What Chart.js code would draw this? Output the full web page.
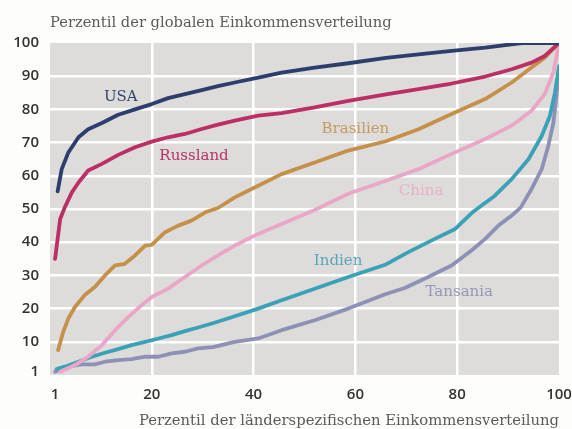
<!DOCTYPE html>
<html>
<head>
<meta charset="utf-8">
<script src="https://cdn.jsdelivr.net/npm/chart.js@4.4.1/dist/chart.umd.min.js"></script>
<style>
  html, body { margin: 0; padding: 0; background: #fdfdfc; }
  #wrap { width: 572px; height: 429px; }
</style>
</head>
<body>
<div id="wrap"><canvas id="chart" width="572" height="429"></canvas></div>
<script>
// x = Perzentil im Land, y = Perzentil global
const usaX = [1.5, 2.3, 3.6, 5.6, 7.5, 10.2, 13.4, 16.7, 20, 23.2, 26.5, 29.8, 33, 36.3, 40.9, 45.5, 52, 58.6, 66, 72.4, 78.9, 85.5, 92.7, 100];
const usaY = [55.3, 62, 67, 71.6, 74, 75.9, 78.4, 80, 81.6, 83.4, 84.6, 85.8, 87, 88.1, 89.6, 91.1, 92.6, 93.9, 95.5, 96.6, 97.6, 98.6, 100, 100];

const rusX = [1, 2, 2.9, 4.3, 5.6, 7.5, 10.2, 13.4, 16.7, 20, 23.2, 26.5, 29.8, 33, 36.3, 40.9, 45.5, 52, 58.6, 66, 72.4, 78.9, 85.5, 90.7, 94.6, 97.2, 100];
const rusY = [35, 47, 50.5, 55, 58, 61.6, 63.6, 66.3, 68.6, 70.3, 71.6, 72.6, 74.1, 75.4, 76.6, 78.1, 78.9, 80.6, 82.6, 84.5, 86.1, 87.8, 89.9, 92.1, 94.1, 96.1, 100];

const braX = [1.6, 2.6, 3.6, 4.9, 6.9, 8.8, 10.8, 12.8, 14.7, 16.7, 18.7, 20, 22.6, 25.2, 27.8, 30.5, 33, 36.3, 40.9, 45.5, 52, 58.6, 66, 72.4, 78.9, 85.5, 90.7, 94.6, 97.2, 100];
const braY = [7.5, 13, 17, 20.5, 24.2, 26.5, 30, 33, 33.5, 36, 39, 39.2, 43, 45, 46.5, 49, 50.3, 53.5, 57, 60.5, 64, 67.6, 70.4, 74, 78.6, 83.1, 88.1, 92.6, 95.6, 100];

const chnX = [2, 4.9, 7.5, 10.2, 12.8, 15.4, 18, 20, 23.2, 26.5, 29.8, 33, 36.3, 40.9, 45.5, 52, 58.6, 66, 72.4, 78.9, 85.5, 90.7, 94.6, 97.2, 98.9, 100];
const chnY = [1, 3, 5.5, 9, 13.5, 17.5, 21, 23.5, 26, 29.5, 33, 36, 39, 42.5, 45.5, 49.7, 54.6, 58.5, 62, 66.6, 71.1, 75.1, 79.6, 84.6, 91.1, 100];

const indX = [1.3, 2.9, 5.6, 8.2, 10.8, 13.4, 16, 18.7, 21.3, 23.9, 26.5, 29.1, 32, 36.3, 40.9, 45.5, 52, 58.6, 66, 70.4, 75.6, 79.6, 83, 87.4, 90.7, 94, 96.6, 98.2, 99.2, 100];
const indY = [1.8, 2.5, 4, 5.5, 6.7, 7.8, 9, 10, 11, 12, 13.2, 14.3, 15.6, 17.7, 20, 22.5, 26, 29.5, 33.3, 37, 41, 44, 49, 54, 59, 65, 72, 78, 85, 93];

const tzaX = [1, 3.6, 6.2, 8.8, 10.8, 13.4, 16, 18.7, 21.3, 23.9, 26.5, 29.1, 32, 36.3, 40.9, 45.5, 52, 58.6, 66, 69.7, 74.3, 78.9, 82.8, 85.5, 88.1, 90.7, 92.5, 94.6, 96.6, 97.9, 98.9, 99.5, 100];
const tzaY = [1, 2.5, 3.2, 3.2, 4, 4.5, 4.8, 5.5, 5.5, 6.5, 7, 8, 8.4, 10, 11, 13.5, 16.5, 20, 24.4, 26.2, 29.5, 33, 37.5, 41, 45, 48, 50.5, 56, 62, 69, 76, 84, 92];

const countries = ['USA', 'Russland', 'Brasilien', 'China', 'Indien', 'Tansania'];
const xTicks = [1, 20, 40, 60, 80, 100];
const yTicks = [1, 10, 20, 30, 40, 50, 60, 70, 80, 90, 100];

const lineColors  = ['#2d3e6d', '#bd2d66', '#c4904a', '#eaa6c6', '#3aa2b7', '#8e91b6'];
const labelColors = ['#33446f', '#b7326a', '#c59a62', '#ebb0cb', '#58a6b9', '#9497b6'];
// where each country name sits, in data units
const labelPos = [[13.9, 83.8], [28.3, 66], [60, 74.2], [72.9, 55.3], [56.6, 34.4], [80.4, 24.9]];

const xs = [usaX, rusX, braX, chnX, indX, tzaX];
const ys = [usaY, rusY, braY, chnY, indY, tzaY];

const serif = "'DejaVu Serif', serif";

const datasets = countries.map((name, i) => ({
  label: name,
  data: xs[i].map((x, j) => ({ x: x, y: ys[i][j] })),
  borderColor: lineColors[i],
  borderWidth: 3.8,
  pointRadius: 0,
  tension: 0,
  borderJoinStyle: 'round',
  borderCapStyle: 'round',
  fill: false
}));

// grey plot panel + texts
const decor = {
  id: 'decor',
  beforeDraw(chart) {
    const { ctx, chartArea: a } = chart;
    ctx.save();
    ctx.fillStyle = '#dddcda';
    ctx.fillRect(a.left, a.top, a.right - a.left, a.bottom - a.top);
    ctx.restore();
  },
  afterDatasetsDraw(chart) {
    const { ctx, chartArea: a, scales } = chart;
    ctx.save();
    ctx.font = '15px ' + serif;
    ctx.textBaseline = 'middle';
    ctx.textAlign = 'center';
    countries.forEach((name, i) => {
      ctx.fillStyle = labelColors[i];
      ctx.fillText(name, scales.x.getPixelForValue(labelPos[i][0]), scales.y.getPixelForValue(labelPos[i][1]));
    });
    ctx.fillStyle = '#5b5b5b';
    ctx.textAlign = 'left';
    ctx.font = '14.7px ' + serif;
    ctx.fillText('Perzentil der globalen Einkommensverteilung', a.left, 23);
    ctx.restore();
  }
};

const hideEdges = (ctx) => {
  const v = ctx.tick ? ctx.tick.value : null;
  return (v === 1 || v === 100 || v === 0) ? 'rgba(0,0,0,0)' : '#ffffff';
};

new Chart(document.getElementById('chart').getContext('2d'), {
  type: 'line',
  data: { datasets: datasets },
  options: {
    responsive: false,
    animation: false,
    layout: { padding: { top: 43, right: 13, left: 0, bottom: 0 } },
    plugins: {
      legend: { display: false },
      tooltip: { enabled: false }
    },
    scales: {
      x: {
        type: 'linear',
        min: 0,
        max: 100,
        afterBuildTicks: (s) => { s.ticks = xTicks.map(v => ({ value: v })); },
        afterFit: (s) => { s.height = 54; s.paddingLeft = 0; s.paddingRight = 0; },
        border: { display: false },
        grid: { color: hideEdges, lineWidth: 2.5, drawTicks: false },
        ticks: {
          padding: 11,
          color: '#333333',
          font: { family: "'Open Sans', sans-serif", size: 15, weight: '600' },
          maxRotation: 0
        },
        title: {
          display: true,
          align: 'end',
          text: 'Perzentil der länderspezifischen Einkommensverteilung',
          color: '#5b5b5b',
          font: { family: serif, size: 14.8, lineHeight: 1.0 },
          padding: { top: 0, bottom: 0 }
        }
      },
      y: {
        min: 0,
        max: 100,
        afterBuildTicks: (s) => { s.ticks = yTicks.map(v => ({ value: v })); },
        afterFit: (s) => { s.width = 50; },
        border: { display: false },
        grid: { color: hideEdges, lineWidth: 2.5, drawTicks: false },
        ticks: {
          padding: 11,
          color: '#333333',
          font: { family: "'Open Sans', sans-serif", size: 15, weight: '600' }
        }
      }
    }
  },
  plugins: [decor]
});
</script>
</body>
</html>
